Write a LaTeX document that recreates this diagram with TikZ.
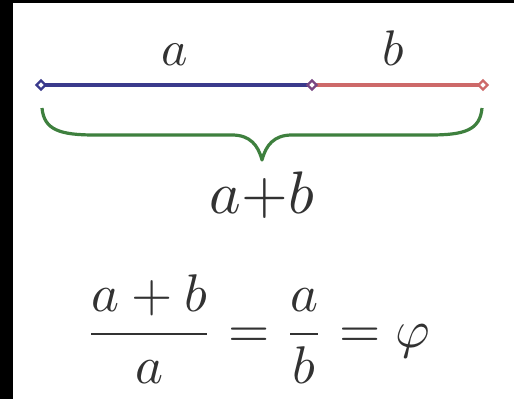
\documentclass[tikz,border=0pt]{standalone}
\usetikzlibrary{shapes.geometric}
\definecolor{segblue}{RGB}{58,58,140}
\definecolor{segred}{RGB}{205,105,105}
\definecolor{segmid}{RGB}{120,70,130}
\definecolor{bracegreen}{RGB}{62,128,62}
\definecolor{ink}{RGB}{50,50,50}
\tikzset{
  pt/.style={diamond,draw=#1,fill=white,line width=2.2pt,minimum width=10pt,minimum height=10pt,inner sep=0pt},
  seg/.style={line width=3.4pt},
  lbl/.style={text=ink,inner sep=0pt,anchor=base},
}
\begin{document}
\begin{tikzpicture}[x=1pt,y=-1pt]
\useasboundingbox (0,0) rectangle (514,399);
\fill[black] (0,0) rectangle (514,399);
\fill[white] (13,3) rectangle (514,399);
% segment end points
\coordinate (A) at (41,85);
\coordinate (M) at (312,85);
\coordinate (B) at (483,85);
\draw[seg,segblue] (A) -- (M);
\draw[seg,segred] (M) -- (B);
\node[pt=segblue] (pA) at (A) {};
\node[pt=segmid] (pM) at (M) {};
\node[pt=segred] (pB) at (B) {};
% labels
\node[lbl,scale=5] (la) at (175,65) {$a$};
\node[lbl,scale=5] (lb) at (393,65) {$b$};
% brace
\coordinate (bl) at (42,108);
\coordinate (br) at (482,108);
\coordinate (bm) at (262,160);
\draw[bracegreen,line width=3.2pt,line join=round]
  (bl) .. controls (44,130) and (60,135) .. (95,135) -- (232,135)
  .. controls (250,135) and (258,145) .. (bm)
  .. controls (266,145) and (274,135) .. (292,135) -- (430,135)
  .. controls (465,135) and (480,130) .. (br);
\node[lbl,scale=6] (lab) at (262,213) {$a{+}b$};
% equation
\node[lbl,anchor=base west,scale=5.3] (eq) at (84,347) {$\displaystyle\frac{a+b}{a}=\frac{a}{b}=\varphi$};
\end{tikzpicture}
\end{document}
